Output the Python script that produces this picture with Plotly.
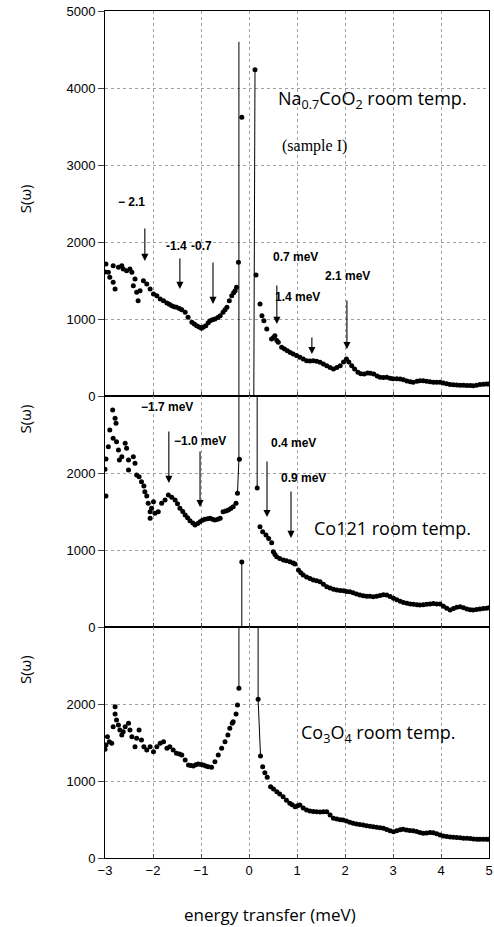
import plotly.graph_objects as go
from plotly.subplots import make_subplots

# ---------------- data (energy transfer meV, S(omega)) ----------------
na_x = [-3.0, -2.98, -2.93, -2.90, -2.83, -2.79, -2.83, -2.72, -2.65, -2.62, -2.55, -2.48, -2.44,
        -2.41, -2.375, -2.34, -2.31, -2.27, -2.20, -2.13, -2.06, -1.99, -1.92, -1.85, -1.78, -1.71,
        -1.66, -1.61, -1.56, -1.51, -1.45, -1.40, -1.33, -1.27, -1.19, -1.14, -1.09, -1.04, -0.99,
        -0.95, -0.90, -0.85, -0.81, -0.76, -0.71, -0.65, -0.60, -0.54, -0.50, -0.46, -0.41, -0.36,
        -0.32, -0.29, -0.26, -0.22, -0.15,
        0.125, 0.146, 0.23, 0.27, 0.31, 0.37, 0.47, 0.51, 0.54, 0.58, 0.61, 0.68, 0.74, 0.80, 0.86,
        0.92, 0.99, 1.06, 1.13, 1.20, 1.27, 1.34, 1.41, 1.48, 1.55, 1.62, 1.69, 1.76, 1.83, 1.90,
        1.97, 2.03, 2.08, 2.14, 2.20, 2.27, 2.33, 2.40, 2.47, 2.53, 2.60, 2.67, 2.73, 2.80, 2.87,
        2.94, 3.00, 3.08, 3.15, 3.22, 3.29, 3.36, 3.42, 3.50, 3.56, 3.63, 3.70, 3.77, 3.84, 3.91,
        3.98, 4.05, 4.12, 4.19, 4.26, 4.33, 4.40, 4.47, 4.54, 4.61, 4.67, 4.74, 4.81, 4.88, 4.95, 5.0]
na_y = [1610, 1714, 1606, 1541, 1476, 1390, 1692, 1671, 1692, 1649, 1627, 1649, 1606,
        1433, 1519, 1347, 1238, 1368, 1497, 1455, 1390, 1325, 1303, 1260, 1238, 1208,
        1190, 1173, 1160, 1151, 1135, 1121, 1087, 1022, 957, 935, 913, 895, 879,
        895, 913, 950, 978, 990, 1000, 1020, 1043, 1087, 1120, 1151, 1238, 1303,
        1340, 1368, 1411, 1736, 3619,
        4238, 1571, 1195, 1043, 978, 870, 740, 760, 783, 720, 697, 632, 610, 588, 565,
        545, 525, 503, 480, 458, 455, 458, 450, 437, 415, 394, 370, 351, 370, 394,
        440, 480, 440, 394, 350, 310, 290, 286, 300, 295, 286, 260, 242, 240, 242,
        230, 225, 225, 221, 210, 195, 185, 178, 190, 199, 199, 190, 185, 180, 178,
        178, 170, 160, 150, 145, 143, 140, 138, 136, 135, 134, 140, 148, 152, 156, 155]
na_peak_x = [-0.21, -0.21, None, 0.125, 0.10]
na_peak_y = [0, 4600, None, 4238, 0]

co121_x = [-3.0, -2.98, -2.98, -2.93, -2.90, -2.83, -2.84, -2.79, -2.77, -2.76, -2.72, -2.70, -2.65,
           -2.58, -2.55, -2.51, -2.51, -2.41, -2.375, -2.34, -2.29, -2.24, -2.19, -2.17, -2.13,
           -2.10, -2.06, -2.03, -1.99, -1.96, -2.06, -1.89, -1.82, -1.75, -1.68, -1.61, -1.54,
           -1.49, -1.44, -1.38, -1.33, -1.28, -1.23, -1.17, -1.125, -1.07, -1.02, -0.97, -0.92,
           -0.86, -0.81, -0.76, -0.71, -0.65, -0.60, -0.54, -0.48, -0.43, -0.38, -0.33, -0.27,
           -0.24, -0.20, -0.15,
           0.17, 0.229, 0.285, 0.354, 0.41, 0.472, 0.507, 0.54, 0.576, 0.64, 0.715, 0.78, 0.854,
           0.92, 0.958, 1.03, 1.08, 1.13, 1.20, 1.27, 1.34, 1.41, 1.48, 1.55, 1.62, 1.69, 1.76,
           1.83, 1.90, 1.97, 2.03, 2.10, 2.17, 2.24, 2.31, 2.38, 2.45, 2.52, 2.59, 2.66, 2.73,
           2.80, 2.87, 2.94, 3.01, 3.08, 3.15, 3.22, 3.29, 3.36, 3.43, 3.50, 3.56, 3.63, 3.70,
           3.77, 3.84, 3.91, 3.98, 4.05, 4.12, 4.19, 4.26, 4.33, 4.40, 4.47, 4.54, 4.61, 4.67,
           4.74, 4.81, 4.88, 4.95, 5.0]
co121_y = [2048, 1701, 2181, 2341, 2558, 2450, 2818, 2710, 2645, 2406, 2300, 2169, 2212,
           2385, 2320, 2169, 2039, 2212, 2126, 1974, 1952, 1887, 1831, 1757, 1701,
           1606, 1497, 1541, 1628, 1476, 1411, 1497, 1606, 1649, 1714, 1684, 1649,
           1600, 1541, 1500, 1455, 1420, 1381, 1350, 1325, 1345, 1368, 1385, 1398,
           1405, 1411, 1400, 1390, 1400, 1411, 1497, 1505, 1519, 1540, 1563, 1606,
           1736, 2178, 844,
           1805, 1303, 1238, 1195, 1150, 1095, 978, 940, 913, 890, 870, 860, 848,
           830, 818, 740, 705, 675, 650, 630, 610, 600, 588, 555, 524, 505, 490,
           480, 475, 470, 462, 458, 445, 430, 416, 405, 400, 398, 394, 400, 410,
           418, 416, 395, 372, 355, 335, 318, 307, 300, 295, 290, 286, 290, 295,
           300, 305, 300, 300, 270, 245, 221, 240, 255, 264, 250, 235, 225, 221,
           228, 235, 240, 245, 250]
co121_peak_x = [-0.21, -0.21, -0.24, None, -0.15, -0.15, None, 0.17, 0.17]
co121_peak_y = [3000, 2178, 1736, None, 844, 0, None, 3000, 1805]

co3o4_x = [-3.0, -2.98, -2.95, -2.91, -2.86, -2.83, -2.79, -2.79, -2.76, -2.72, -2.69, -2.65, -2.62,
           -2.58, -2.51, -2.48, -2.44, -2.375, -2.34, -2.29, -2.24, -2.19, -2.13, -2.06, -1.99,
           -1.92, -1.85, -1.78, -1.71, -1.65, -1.58, -1.51, -1.45, -1.40, -1.33, -1.26, -1.21,
           -1.16, -1.11, -1.06, -1.00, -0.95, -0.90, -0.85, -0.78, -0.71, -0.64, -0.57, -0.50,
           -0.44, -0.40, -0.35, -0.33, -0.27, -0.24, -0.21,
           0.19, 0.24, 0.285, 0.33, 0.38, 0.45, 0.51, 0.58, 0.64, 0.71, 0.78, 0.85, 0.90, 0.96,
           1.01, 1.06, 1.13, 1.20, 1.27, 1.34, 1.41, 1.48, 1.55, 1.62, 1.69, 1.76, 1.83, 1.90,
           1.96, 2.03, 2.10, 2.17, 2.24, 2.31, 2.38, 2.45, 2.52, 2.59, 2.66, 2.73, 2.80, 2.87,
           2.94, 3.01, 3.08, 3.15, 3.21, 3.28, 3.35, 3.42, 3.49, 3.56, 3.63, 3.70, 3.77, 3.84,
           3.91, 3.98, 4.05, 4.12, 4.19, 4.26, 4.33, 4.40, 4.47, 4.54, 4.61, 4.68, 4.75, 4.81,
           4.88, 4.95, 5.0]
co3o4_y = [1411, 1468, 1576, 1511, 1489, 1706, 1965, 1870, 1792, 1727, 1662, 1597, 1641,
           1706, 1749, 1662, 1576, 1446, 1554, 1662, 1532, 1446, 1403, 1446, 1381,
           1446, 1489, 1511, 1425, 1446, 1403, 1360, 1350, 1338, 1273, 1208, 1200,
           1195, 1210, 1221, 1215, 1208, 1195, 1186, 1177, 1251, 1338, 1425, 1511,
           1597, 1684, 1749, 1770, 1870, 1987, 2204,
           2061, 1325, 1186, 1108, 1048, 926, 895, 861, 830, 796, 750, 710, 690, 666,
           680, 688, 650, 623, 612, 605, 601, 598, 600, 601, 560, 515, 505, 498,
           494, 480, 465, 450, 443, 435, 429, 420, 412, 407, 400, 392, 386, 370,
           355, 342, 355, 368, 372, 365, 358, 355, 345, 330, 321, 325, 330, 329,
           315, 300, 286, 280, 272, 269, 265, 262, 258, 256, 252, 248, 245, 243,
           243, 243, 243]
co3o4_peak_x = [-0.21, -0.21, None, 0.19, 0.19, 0.24]
co3o4_peak_y = [3000, 2204, None, 3000, 2061, 1325]

x_ticks = [-3, -2, -1, 0, 1, 2, 3, 4, 5]
top_ticks = [0, 1000, 2000, 3000, 4000, 5000]
low_ticks = [0, 1000, 2000]

# ---------------- figure ----------------
fig = make_subplots(rows=3, cols=1, shared_xaxes=True, vertical_spacing=0,
                    row_heights=[5, 3, 3])

series = [(na_x, na_y, na_peak_x, na_peak_y),
          (co121_x, co121_y, co121_peak_x, co121_peak_y),
          (co3o4_x, co3o4_y, co3o4_peak_x, co3o4_peak_y)]
for i, (sx, sy, px, py) in enumerate(series, start=1):
    fig.add_trace(go.Scatter(x=px, y=py, mode="lines", line=dict(color="black", width=1),
                             showlegend=False, hoverinfo="skip"), row=i, col=1)
    fig.add_trace(go.Scatter(x=sx, y=sy, mode="markers",
                             marker=dict(color="black", size=5), showlegend=False),
                  row=i, col=1)

FONT = "Liberation Sans, Arial, sans-serif"
axis_common = dict(showline=True, linecolor="black", linewidth=1, mirror=True,
                   showgrid=True, gridcolor="#a0a0a0", griddash="dot", gridwidth=1,
                   zeroline=False, automargin=False,
                   tickfont=dict(family=FONT, size=13, color="black"))

for r in (1, 2, 3):
    fig.update_xaxes(range=[-3, 5], tickvals=x_ticks, ticks="inside", ticklen=4,
                     tickcolor="#555", showticklabels=(r == 3), row=r, col=1, **axis_common)
fig.update_yaxes(range=[0, 5000], tickvals=top_ticks, ticks="outside", ticklen=6,
                 row=1, col=1, **axis_common)
fig.update_yaxes(range=[0, 3000], tickvals=low_ticks, ticks="outside", ticklen=6,
                 row=2, col=1, **axis_common)
fig.update_yaxes(range=[0, 3000], tickvals=low_ticks, ticks="outside", ticklen=6,
                 row=3, col=1, **axis_common)

ann = []
def txt(text, x, y, xr, yr, size=12, bold=True, xanchor="center", family=FONT):
    ann.append(dict(text=("<b>%s</b>" % text) if bold else text, x=x, y=y, xref=xr, yref=yr,
                    showarrow=False, xanchor=xanchor, yanchor="middle",
                    font=dict(family=family, size=size, color="black")))

def arrow(x, y, ay, xr, yr):
    ann.append(dict(text="", x=x, y=y, xref=xr, yref=yr, ax=0, ay=ay, showarrow=True,
                    arrowhead=2, arrowsize=1.3, arrowwidth=1.1, arrowcolor="black"))

# top panel
txt("\u2212 2.1", -2.44, 2519, "x", "y")
txt("-1.4", -1.52, 1948, "x", "y")
txt("-0.7", -0.98, 1948, "x", "y")
txt("0.7 meV", 0.96, 1805, "x", "y")
txt("2.1 meV", 2.06, 1558, "x", "y")
txt("1.4 meV", 1.0, 1286, "x", "y")
arrow(-2.17, 1753, -34, "x", "y")
arrow(-1.44, 1390, -32, "x", "y")
arrow(-0.75, 1195, -43, "x", "y")
arrow(0.58, 935, -40, "x", "y")
arrow(1.31, 545, -18, "x", "y")
arrow(2.04, 610, -50, "x", "y")
txt("Na<sub>0.7</sub>CoO<sub>2</sub> room temp.", 0.56, 3857, "x", "y", size=18, bold=False,
    xanchor="left", family="Open Sans, sans-serif")
txt("(sample I)", 0.65, 3247, "x", "y", size=16, bold=False, xanchor="left",
    family="Liberation Serif, serif")

# middle panel
txt("\u22121.7 meV", -1.71, 2857, "x2", "y2")
txt("\u22121.0 meV", -1.02, 2416, "x2", "y2")
txt("0.4 meV", 0.92, 2390, "x2", "y2")
txt("0.9 meV", 1.125, 1935, "x2", "y2")
arrow(-1.67, 1870, -53, "x2", "y2")
arrow(-1.02, 1558, -57, "x2", "y2")
arrow(0.375, 1428, -57, "x2", "y2")
arrow(0.875, 1156, -48, "x2", "y2")
txt("Co121 room temp.", 1.32, 1286, "x2", "y2", size=18, bold=False, xanchor="left",
    family="Open Sans, sans-serif")

# bottom panel
txt("Co<sub>3</sub>O<sub>4</sub> room temp.", 1.05, 1623, "x3", "y3", size=18, bold=False,
    xanchor="left", family="Open Sans, sans-serif")

# axis titles
for yp in (0.778, 0.518, 0.222):
    ann.append(dict(text="S(\u03c9)", x=-0.208, y=yp, xref="paper", yref="paper",
                    showarrow=False, textangle=-90, xanchor="center", yanchor="middle",
                    font=dict(family="Open Sans, sans-serif", size=15, color="black")))
ann.append(dict(text="energy transfer (meV)", x=0.43, y=-0.067, xref="paper", yref="paper",
                showarrow=False, xanchor="center", yanchor="middle",
                font=dict(family="Open Sans, sans-serif", size=17, color="black")))

fig.update_layout(width=494, height=927, margin=dict(l=105, r=5, t=11, b=69),
                  plot_bgcolor="white", paper_bgcolor="white", annotations=ann,
                  showlegend=False)

fig.write_html("out.html", config={"displayModeBar": False},
               post_script="document.body.style.margin='0';document.body.style.overflow='hidden';")
